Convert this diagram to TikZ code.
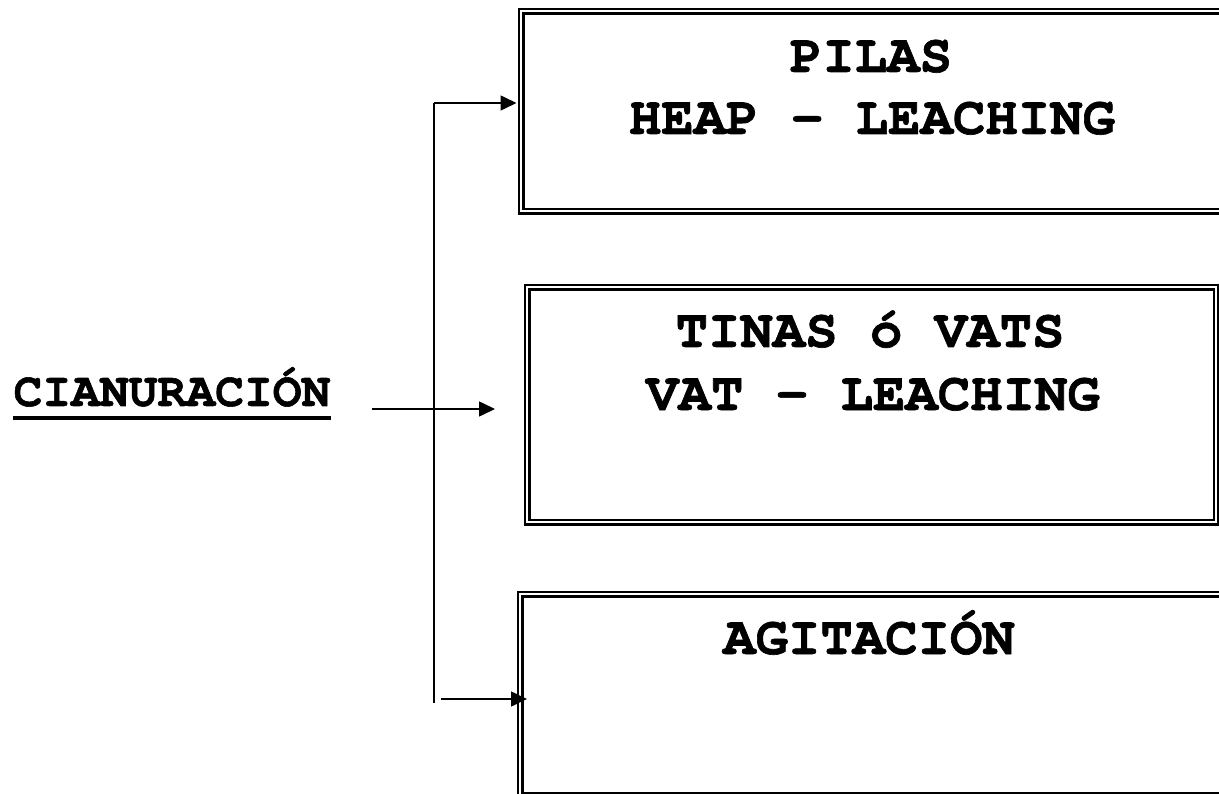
\documentclass[tikz,border=0pt]{standalone}
\usepackage{fontspec}
\setmonofont{TeX Gyre Cursor}[BoldFeatures={FakeBold=1.2}]
\usetikzlibrary{arrows.meta}
\begin{document}
\begin{tikzpicture}[x=1pt,y=-1pt,
  box/.style={draw, line width=2.6pt, double=white, double distance=2pt, rectangle, anchor=north west, inner sep=0pt},
  lbl/.style={font=\ttfamily\bfseries\fontsize{54}{60}\selectfont, anchor=base, inner sep=0pt},
  conn/.style={line width=1.6pt},
  arr/.style={conn, -{Triangle[length=16pt,width=15pt]}}]
\useasboundingbox (0,0) rectangle (1219,794);
\clip (0,0) rectangle (1219,794);
% boxes
\node[box, minimum width=760pt, minimum height=200pt] (b1) at (520,10) {};
\node[box, minimum width=689pt, minimum height=235pt] (b2) at (526,286) {};
\node[box, minimum width=760pt, minimum height=201pt] (b3) at (519,593) {};
% texts
\node[lbl] (t1a) at (871,72) {PILAS};
\node[lbl] (t1b) at (872,134) {HEAP - LEACHING};
\node[lbl] (t2a) at (870,347) {TINAS ó VATS};
\node[lbl] (t2b) at (873,410) {VAT - LEACHING};
\node[lbl] (t3a) at (869,654) {AGITACIÓN};
\node[lbl, font=\ttfamily\bfseries\fontsize{48}{56}\selectfont] (cian) at (172,406) {CIANURACIÓN};
\draw[line width=4pt] ([yshift=-12pt]cian.base west) -- ([yshift=-12pt]cian.base east);
% connectors
\coordinate (top) at (434,103);
\coordinate (bot) at (434,703);
\coordinate (m1) at (372,409);
\coordinate (m2) at (495,409);
\coordinate (b0) at (441,699);
\draw[conn] (top) -- (bot);
\draw[arr, shorten >=3.5pt] (top) -- (b1.west |- top);
\draw[arr] (m1) -- (m2);
\draw[arr, shorten >=-8pt] (b0) -- (b3.west |- b0);
\end{tikzpicture}
\end{document}
